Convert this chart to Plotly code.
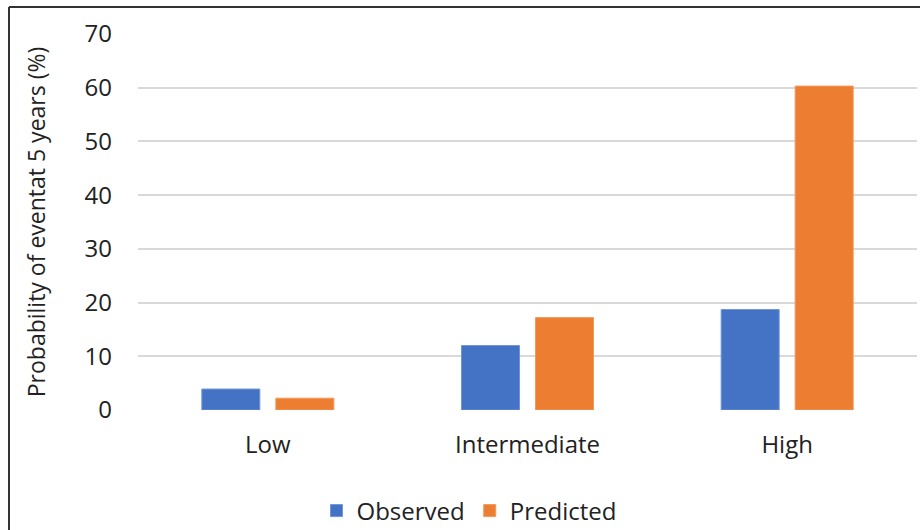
import plotly.graph_objects as go

categories = ["Low", "Intermediate", "High"]
observed = [3.9, 12.0, 18.7]
predicted = [2.2, 17.2, 60.3]
y_ticks = [0, 10, 20, 30, 40, 50, 60, 70]

FONT = "Open Sans"
TXT = "#222222"

fig = go.Figure()
fig.add_trace(go.Bar(name="Observed", x=categories, y=observed,
                     marker=dict(color="#4472C4", line=dict(color="#6f95d8", width=1))))
fig.add_trace(go.Bar(name="Predicted", x=categories, y=predicted,
                     marker=dict(color="#ED7D31", line=dict(color="#f09a5c", width=1))))

W, H = 920, 530
ml, mr, mt, mb = 138, 3, 34, 120
pw = W - ml - mr
ph = H - mt - mb

def px(x):
    return (x - ml) / pw

def py(y):
    return (H - mb - y) / ph

fig.update_layout(
    width=W, height=H,
    margin=dict(l=ml, r=mr, t=mt, b=mb, autoexpand=False),
    paper_bgcolor="white", plot_bgcolor="white",
    barmode="group", bargap=0.43, bargroupgap=0.216,
    font=dict(family=FONT, color=TXT, size=24),
    showlegend=True,
    legend=dict(orientation="h", x=px(469), xanchor="center", y=py(511), yanchor="middle",
                font=dict(size=24, family=FONT, color=TXT), itemwidth=30,
                traceorder="normal", itemclick=False),
    shapes=[
        dict(type="line", xref="paper", yref="paper", x0=px(9), x1=px(9), y0=py(540), y1=py(7),
             line=dict(color="#333333", width=2)),
        dict(type="line", xref="paper", yref="paper", x0=px(9), x1=px(930), y0=py(7), y1=py(7),
             line=dict(color="#333333", width=2)),
    ],
)
fig.update_xaxes(showgrid=False, showline=False, ticks="", tickfont=dict(size=24, family=FONT, color=TXT),
                 ticklabelstandoff=18, automargin=False)
fig.update_yaxes(range=[0, 70], tickvals=y_ticks, showgrid=True, gridcolor="#d9d9d9", gridwidth=1.5,
                 zeroline=False, showline=False, ticks="", ticklabelstandoff=25, automargin=False,
                 tickfont=dict(size=24, family=FONT, color=TXT),
                 title=dict(text="Probability of eventat 5 years (%)", font=dict(size=23, family=FONT, color=TXT),
                            standoff=32))

fig.write_html("out.html", config={"displayModeBar": False},
               post_script="document.body.style.margin='0';")
